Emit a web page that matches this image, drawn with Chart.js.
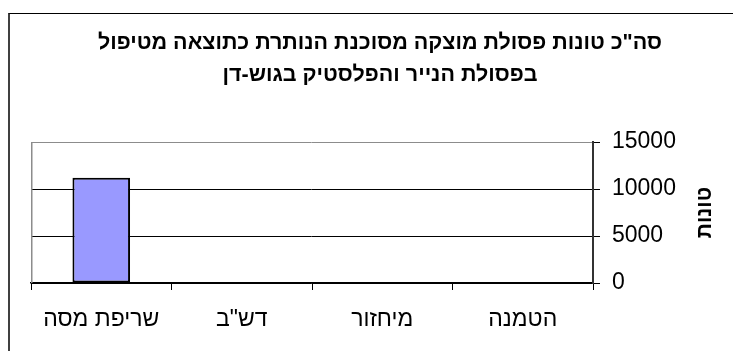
<!DOCTYPE html>
<html lang="he">
<head>
<meta charset="utf-8">
<title>טונות פסולת מוצקה מסוכנת</title>
<script src="https://cdn.jsdelivr.net/npm/chart.js@4.4.1/dist/chart.umd.min.js"></script>
<style>
    html, body { margin: 0; padding: 0; background: #fff; overflow: hidden; }
    #wrap { position: relative; width: 733px; height: 351px; }
    /* outer chart frame, runs past the right and bottom edges */
    #frame {
        position: absolute; left: 8px; top: 13px; width: 800px; height: 400px;
        border-left: 2px solid #404040; border-top: 1px solid #000;
    }
    canvas { position: absolute; left: 0; top: 0; }
</style>
</head>
<body>
<div id="wrap">
    <div id="frame"></div>
    <canvas id="wasteChart" width="733" height="351"></canvas>
</div>
<script>
// Treatment methods (read right to left, axis is reversed)
const categories = ['הטמנה', 'מיחזור', 'דש"ב', 'שריפת מסה'];
const tonnes = [0, 0, 0, 11200];
const yTicks = [0, 5000, 10000, 15000];

const titleLines = ['סה"כ טונות פסולת מוצקה מסוכנת הנותרת כתוצאה מטיפול', 'בפסולת הנייר והפלסטיק בגוש-דן'];
const yTitle = 'טונות';

const FONT = "'Liberation Sans', Arial, sans-serif";

// Draws the gray plot border on the left and the vertical axis title
const plotExtras = {
    id: 'plotExtras',
    beforeDatasetsDraw(chart) {
        const { ctx, chartArea } = chart;
        ctx.save();
        ctx.strokeStyle = '#8c8c8c';
        ctx.lineWidth = 1.5;
        ctx.beginPath();
        ctx.moveTo(chartArea.left + 0.75, chartArea.top);
        ctx.lineTo(chartArea.left + 0.75, chartArea.bottom);
        ctx.stroke();
        ctx.restore();
    },
    afterDraw(chart) {
        const { ctx, chartArea } = chart;
        const y = chart.scales.y;
        ctx.save();
        ctx.translate(y.right - 24, (chartArea.top + chartArea.bottom) / 2);
        ctx.rotate(-Math.PI / 2);
        ctx.font = `bold 21px ${FONT}`;
        ctx.fillStyle = '#000';
        ctx.textAlign = 'center';
        ctx.textBaseline = 'middle';
        ctx.fillText(yTitle, 0, 0);
        ctx.restore();
    }
};

const ctx = document.getElementById('wasteChart').getContext('2d');

new Chart(ctx, {
    type: 'bar',
    data: {
        labels: categories,
        datasets: [{
            data: tonnes,
            backgroundColor: '#9999ff',
            borderColor: '#000',
            borderWidth: 2,
            borderSkipped: false,
            barPercentage: 0.41,
            categoryPercentage: 1
        }]
    },
    options: {
        responsive: false,
        animation: false,
        layout: { padding: { left: 31, right: 4, top: 0, bottom: 0 } },
        plugins: {
            legend: { display: false },
            tooltip: { enabled: false },
            title: {
                display: true,
                text: titleLines,
                color: '#000',
                font: { family: FONT, size: 21.5, weight: 'bold', lineHeight: 1.49 },
                padding: { top: 27, bottom: 51 }
            }
        },
        scales: {
            x: {
                reverse: true,
                grid: { offset: true, drawOnChartArea: false, tickLength: 7, color: '#000' },
                border: { color: '#000', width: 1.5 },
                ticks: {
                    padding: 16, color: '#000', autoSkip: false, maxRotation: 0,
                    font: { family: FONT, size: 23 }
                },
                afterFit(scale) { scale.height = 68; }
            },
            y: {
                position: 'right',
                min: yTicks[0],
                max: yTicks[yTicks.length - 1],
                afterBuildTicks(scale) { scale.ticks = yTicks.map(v => ({ value: v })); },
                grid: {
                    color: c => (c.tick && c.tick.value === 15000) ? '#8c8c8c' : '#000',
                    tickColor: '#000',
                    tickLength: 7
                },
                border: { color: '#333', width: 2 },
                ticks: {
                    padding: 12, color: '#000',
                    font: { family: FONT, size: 23 },
                    callback: v => String(v)
                },
                afterFit(scale) { scale.width = 136; }
            }
        }
    },
    plugins: [plotExtras]
});
</script>
</body>
</html>
